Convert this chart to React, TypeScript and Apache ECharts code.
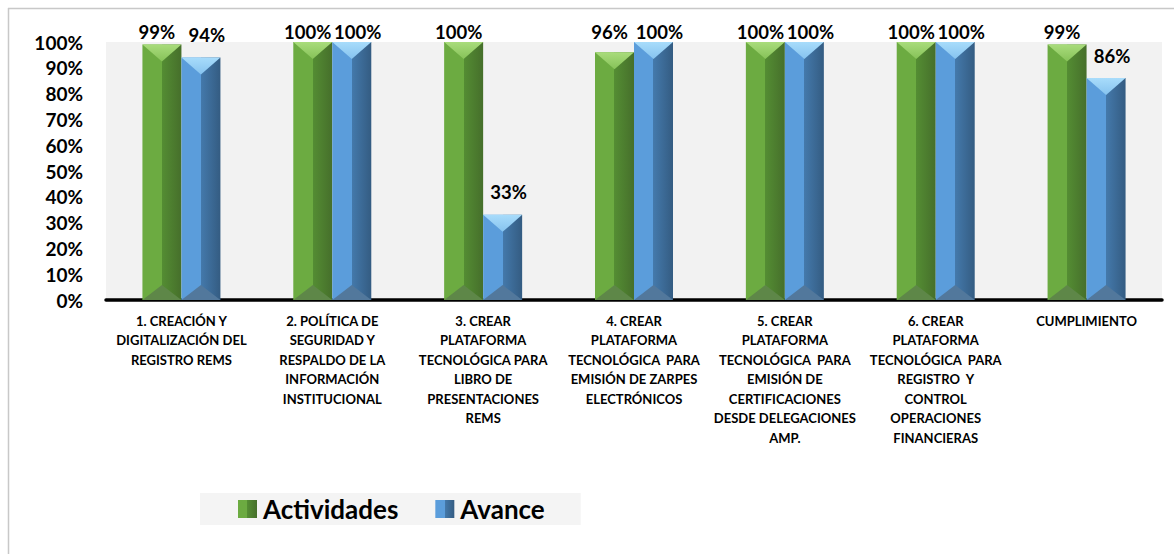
import React, { useEffect, useRef } from "react";
import * as echarts from "echarts";

const categories = [
  "1. CREACIÓN Y\nDIGITALIZACIÓN DEL\nREGISTRO REMS",
  "2. POLÍTICA DE\nSEGURIDAD Y\nRESPALDO DE LA\nINFORMACIÓN\nINSTITUCIONAL",
  "3. CREAR\nPLATAFORMA\nTECNOLÓGICA PARA\nLIBRO DE\nPRESENTACIONES\nREMS",
  "4. CREAR\nPLATAFORMA\nTECNOLÓGICA  PARA\nEMISIÓN DE ZARPES\nELECTRÓNICOS",
  "5. CREAR\nPLATAFORMA\nTECNOLÓGICA  PARA\nEMISIÓN DE\nCERTIFICACIONES\nDESDE DELEGACIONES\nAMP.",
  "6. CREAR\nPLATAFORMA\nTECNOLÓGICA  PARA\nREGISTRO  Y\nCONTROL\nOPERACIONES\nFINANCIERAS",
  "CUMPLIMIENTO",
];
const actividades = [99, 100, 100, 96, 100, 100, 99];
const avance = [94, 100, 33, 100, 100, 100, 86];
const yTicks = [0, 10, 20, 30, 40, 50, 60, 70, 80, 90, 100];

const FONT = "Lato";
const PLOT_H = 258;
const BAR_W = 39;

const labelDistance = (v: number) =>
  Math.max(1, Math.min(13, (1 - v / 100) * PLOT_H + 1));

const hGrad = (a: string, b: string, c: string) =>
  new echarts.graphic.LinearGradient(0, 0, 1, 0, [
    { offset: 0, color: a },
    { offset: 0.5, color: a },
    { offset: 0.5, color: b },
    { offset: 1, color: c },
  ]);

const bevel = (offset: number, topA: string, topB: string, bot: string) =>
  (params: any, api: any) => {
    const idx = api.value(0);
    const val = api.value(1);
    const t = api.coord([idx, val]);
    const b = api.coord([idx, 0]);
    const xc = t[0] + offset;
    const x0 = xc - BAR_W / 2;
    const x1 = xc + BAR_W / 2;
    const d = 17;
    return {
      type: "group",
      children: [
        {
          type: "polygon",
          shape: { points: [[x0, t[1]], [x1, t[1]], [xc, t[1] + d]] },
          style: {
            fill: new echarts.graphic.LinearGradient(0, 0, 0, 1, [
              { offset: 0, color: topA },
              { offset: 1, color: topB },
            ]),
          },
        },
        {
          type: "polygon",
          shape: { points: [[x0, b[1]], [x1, b[1]], [xc, b[1] - d + 2]] },
          style: { fill: bot },
        },
      ],
    };
  };

export default function App() {
  const ref = useRef<HTMLDivElement>(null);
  useEffect(() => {
    if (!ref.current) return;
    const chart = echarts.init(ref.current, null, { renderer: "svg" });
    const greenFill = hGrad("#6cab41", "#548d33", "#466f2b");
    const blueFill = hGrad("#5b9ddb", "#4479ab", "#345c82");
    const dataLabel = {
      show: true,
      position: "top",
      formatter: "{c}%",
      fontFamily: FONT,
      fontWeight: "bold",
      fontSize: 18.5,
      color: "#000",
    };
    chart.setOption({
      animation: false,
      backgroundColor: "#ffffff",
      textStyle: { fontFamily: FONT },
      grid: {
        left: 106,
        top: 42,
        right: 12,
        bottom: 254,
        show: true,
        backgroundColor: "#f2f2f2",
        borderWidth: 0,
      },
      legend: {
        data: ["Actividades", "Avance"],
        left: 200,
        top: 493,
        icon: "rect",
        itemWidth: 19,
        itemHeight: 18,
        itemGap: 37,
        padding: [3, 36, 3, 38],
        backgroundColor: "#f4f4f4",
        textStyle: {
          fontFamily: FONT,
          fontWeight: "bold",
          fontSize: 26,
          color: "#000",
          padding: [0, 0, 0, 1],
        },
      },
      xAxis: {
        type: "category",
        data: categories,
        axisLine: { lineStyle: { color: "#000", width: 3.5 } },
        axisTick: { show: false },
        axisLabel: {
          interval: 0,
          margin: 11,
          fontFamily: FONT,
          fontWeight: "bold",
          fontSize: 13,
          lineHeight: 19.5,
          color: "#000",
          align: "center",
          verticalAlign: "top",
        },
      },
      yAxis: {
        type: "value",
        min: 0,
        max: 100,
        interval: 10,
        axisLine: { show: false },
        axisTick: { show: false },
        splitLine: { show: false },
        axisLabel: {
          margin: 23,
          fontFamily: FONT,
          fontWeight: "bold",
          fontSize: 19,
          color: "#000",
          formatter: (v: number) => (yTicks.includes(v) ? v + "%" : ""),
        },
      },
      series: [
        {
          name: "Actividades",
          type: "bar",
          barWidth: BAR_W,
          barGap: "0%",
          itemStyle: { color: greenFill },
          label: { ...dataLabel, offset: [-5, 0] },
          data: actividades.map((v) => ({
            value: v,
            label: { distance: labelDistance(v) },
          })),
        },
        {
          name: "Avance",
          type: "bar",
          barWidth: BAR_W,
          barGap: "0%",
          itemStyle: { color: blueFill },
          label: { ...dataLabel, offset: [6, 0] },
          data: avance.map((v) => ({
            value: v,
            label: { distance: labelDistance(v) },
          })),
        },
        {
          name: "bevelA",
          type: "custom",
          silent: true,
          z: 5,
          renderItem: bevel(-BAR_W / 2, "#a9dc7c", "#86c258", "#5e8748"),
          encode: { x: 0, y: 1 },
          data: actividades.map((v, i) => [i, v]),
        },
        {
          name: "bevelB",
          type: "custom",
          silent: true,
          z: 5,
          renderItem: bevel(BAR_W / 2, "#a8dcfb", "#86c3ef", "#52789c"),
          encode: { x: 0, y: 1 },
          data: avance.map((v, i) => [i, v]),
        },
      ],
      graphic: [
        {
          type: "line",
          silent: true,
          shape: { x1: 8.5, y1: 8, x2: 8.5, y2: 554 },
          style: { stroke: "#c8c8c8", lineWidth: 1.5 },
        },
        {
          type: "line",
          silent: true,
          shape: { x1: 8, y1: 8.5, x2: 1174, y2: 8.5 },
          style: { stroke: "#c8c8c8", lineWidth: 1.5 },
        },
      ],
    });
    return () => chart.dispose();
  }, []);
  return (
    <div
      ref={ref}
      style={{ position: "absolute", left: 0, top: 0, width: 1174, height: 554 }}
    />
  );
}
